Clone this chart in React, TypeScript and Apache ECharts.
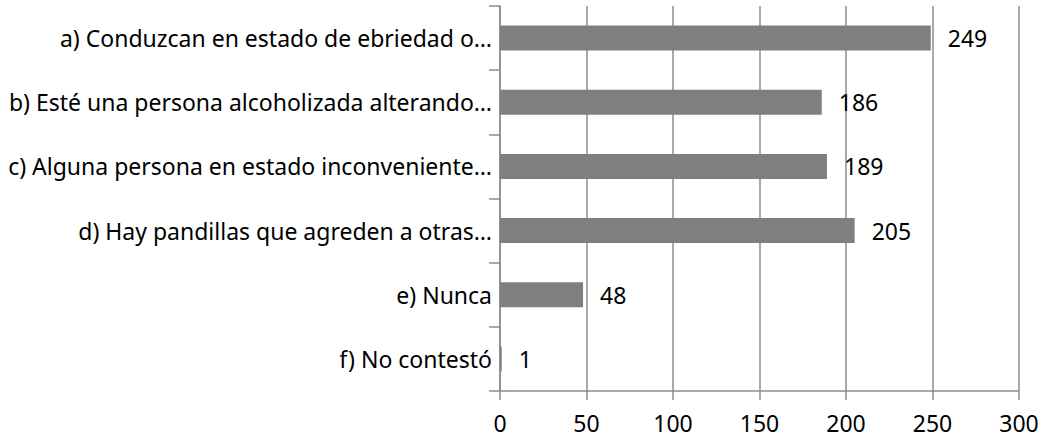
import React, { useEffect, useRef } from "react";
import * as echarts from "echarts";

const categories = [
  "a) Conduzcan en estado de ebriedad o…",
  "b) Esté una persona alcoholizada alterando…",
  "c) Alguna persona en estado inconveniente…",
  "d) Hay pandillas que agreden a otras…",
  "e) Nunca",
  "f) No contestó",
];
const values = [249, 186, 189, 205, 48, 1];
const xTicks = { min: 0, max: 300, interval: 50 };

const FONT = "Noto Sans";
const FS = 23;
const GRAY = "#8c8c8c";
const LW = 1.5;

export default function App() {
  const ref = useRef<HTMLDivElement>(null);
  useEffect(() => {
    document.body.style.margin = "0";
    const chart = echarts.init(ref.current!, undefined, { renderer: "svg" });
    chart.setOption({
      animation: false,
      grid: { left: 500, right: 25, top: 6, bottom: 49, containLabel: false },
      xAxis: {
        type: "value",
        min: xTicks.min,
        max: xTicks.max,
        interval: xTicks.interval,
        axisLine: { show: true, lineStyle: { color: GRAY, width: LW } },
        axisTick: { show: true, length: 9, lineStyle: { color: GRAY, width: LW } },
        splitLine: { show: true, lineStyle: { color: GRAY, width: LW } },
        axisLabel: {
          color: "#000",
          fontFamily: FONT,
          fontSize: FS,
          margin: 19,
          lineHeight: 26,
        },
      },
      yAxis: {
        type: "category",
        data: categories,
        inverse: true,
        axisLine: { show: true, lineStyle: { color: GRAY, width: LW } },
        axisTick: { show: true, length: 11, lineStyle: { color: GRAY, width: LW } },
        axisLabel: { color: "#000", fontFamily: FONT, fontSize: FS, margin: 8 },
      },
      series: [
        {
          type: "bar",
          data: values,
          barWidth: "39%",
          itemStyle: { color: "#7f7f7f" },
          label: {
            show: true,
            position: "right",
            distance: 17,
            color: "#000",
            fontFamily: FONT,
            fontSize: FS,
          },
        },
      ],
    });
    return () => chart.dispose();
  }, []);
  return (
    <div
      ref={ref}
      style={{ position: "absolute", left: 0, top: 0, width: 1044, height: 440 }}
    />
  );
}
